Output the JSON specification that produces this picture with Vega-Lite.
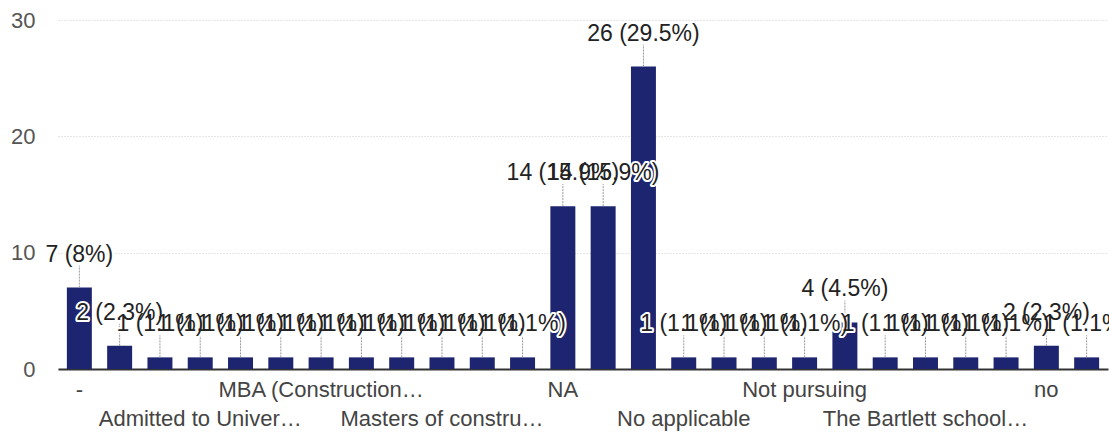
{
  "$schema": "https://vega.github.io/schema/vega-lite/v6.json",
  "width": 1050,
  "height": 349,
  "autosize": "none",
  "padding": {"left": 58, "top": 20, "right": 1, "bottom": 70},
  "background": "white",
  "config": {"view": {"stroke": null}, "font": "Liberation Sans"},
  "data": {
    "values": [
      {"cat": "-", "count": 7, "label": "7 (8%)"},
      {"cat": "Accepted offer", "count": 2, "label": "2 (2.3%)"},
      {"cat": "Admission in process", "count": 1, "label": "1 (1.1%)"},
      {"cat": "Admitted to Univer…", "count": 1, "label": "1 (1.1%)"},
      {"cat": "Applied for MSc", "count": 1, "label": "1 (1.1%)"},
      {"cat": "Joined a job", "count": 1, "label": "1 (1.1%)"},
      {"cat": "MBA (Construction…", "count": 1, "label": "1 (1.1%)"},
      {"cat": "MSc Construction Management", "count": 1, "label": "1 (1.1%)"},
      {"cat": "Master's in Project Management", "count": 1, "label": "1 (1.1%)"},
      {"cat": "Masters of constru…", "count": 1, "label": "1 (1.1%)"},
      {"cat": "Masters of real estate", "count": 1, "label": "1 (1.1%)"},
      {"cat": "Msc in construction", "count": 1, "label": "1 (1.1%)"},
      {"cat": "NA", "count": 14, "label": "14 (15.9%)"},
      {"cat": "Nil", "count": 14, "label": "14 (15.9%)"},
      {"cat": "No", "count": 26, "label": "26 (29.5%)"},
      {"cat": "No applicable", "count": 1, "label": "1 (1.1%)"},
      {"cat": "No plans", "count": 1, "label": "1 (1.1%)"},
      {"cat": "None", "count": 1, "label": "1 (1.1%)"},
      {"cat": "Not pursuing", "count": 1, "label": "1 (1.1%)"},
      {"cat": "Not yet", "count": 4, "label": "4 (4.5%)"},
      {"cat": "Planning for MBA", "count": 1, "label": "1 (1.1%)"},
      {"cat": "The Bartlett school…", "count": 1, "label": "1 (1.1%)"},
      {"cat": "UCL", "count": 1, "label": "1 (1.1%)"},
      {"cat": "Working", "count": 1, "label": "1 (1.1%)"},
      {"cat": "no", "count": 2, "label": "2 (2.3%)"},
      {"cat": "not applicable", "count": 1, "label": "1 (1.1%)"}
    ]
  },
  "encoding": {
    "x": {
      "field": "cat",
      "type": "nominal",
      "sort": null,
      "scale": {"paddingInner": 0.38, "paddingOuter": 0.22},
      "axis": {
        "title": null,
        "ticks": false,
        "domainColor": "#333333",
        "domainWidth": 2,
        "labelAngle": 0,
        "labelFontSize": 22,
        "labelColor": "#444444",
        "labelPadding": 10,
        "labelLimit": 0,
        "labelLineHeight": 29,
        "labelBaseline": "top",
        "labelExpr": "indexof(['-','MBA (Construction…','NA','Not pursuing','no'], datum.value) >= 0 ? datum.value : (indexof(['Admitted to Univer…','Masters of constru…','No applicable','The Bartlett school…'], datum.value) >= 0 ? ['', datum.value] : '')"
      }
    }
  },
  "layer": [
    {
      "mark": {"type": "bar", "color": "#1d2570"},
      "encoding": {
        "y": {
          "field": "count",
          "type": "quantitative",
          "scale": {"domain": [0, 30], "nice": false},
          "axis": {
            "title": null,
            "values": [0, 10, 20, 30],
            "domain": false,
            "ticks": false,
            "tickSize": 0,
            "labelPadding": 23,
            "labelFontSize": 22,
            "labelColor": "#555555",
            "gridColor": "#cccccc",
            "gridDash": [1, 2]
          }
        }
      }
    },
    {
      "mark": {"type": "rule", "color": "#999999", "strokeWidth": 1, "y2Offset": -22, "strokeDash": [2, 1]},
      "encoding": {
        "y": {"field": "count", "type": "quantitative"},
        "y2": {"field": "count"}
      }
    },
    {
      "mark": {"type": "text", "fontSize": 23, "dy": -33, "baseline": "middle", "stroke": "white", "strokeWidth": 4, "strokeJoin": "round", "fill": "white"},
      "encoding": {
        "y": {"field": "count", "type": "quantitative"},
        "text": {"field": "label"}
      }
    },
    {
      "mark": {"type": "text", "fontSize": 23, "dy": -33, "baseline": "middle", "color": "#222222"},
      "encoding": {
        "y": {"field": "count", "type": "quantitative"},
        "text": {"field": "label"}
      }
    }
  ]
}
